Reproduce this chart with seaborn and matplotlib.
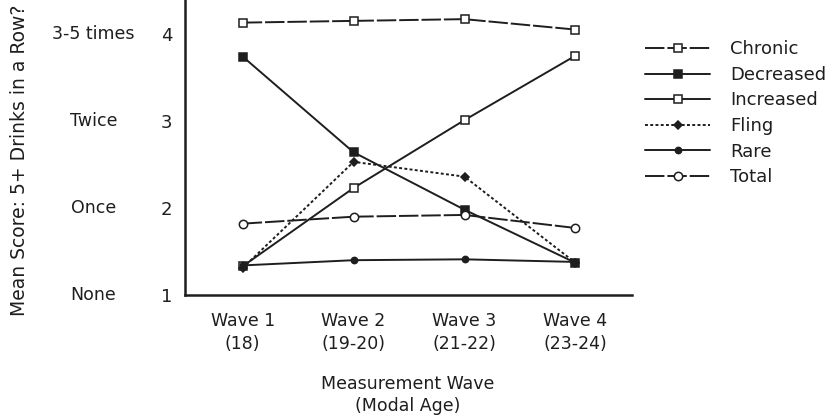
import matplotlib
matplotlib.use("Agg")
import matplotlib.pyplot as plt
import seaborn as sns
import pandas as pd

waves = ["Wave 1\n(18)", "Wave 2\n(19-20)", "Wave 3\n(21-22)", "Wave 4\n(23-24)"]
groups = ["Chronic", "Decreased", "Increased", "Fling", "Rare", "Total"]
chronic = [4.13, 4.15, 4.17, 4.05]
decreased = [3.74, 2.64, 1.98, 1.37]
increased = [1.33, 2.23, 3.01, 3.75]
fling = [1.31, 2.53, 2.36, 1.37]
rare = [1.34, 1.40, 1.41, 1.38]
total = [1.82, 1.90, 1.92, 1.77]
ytick_vals = [1, 2, 3, 4]
ytick_words = ["None", "Once", "Twice", "3-5 times"]

series = dict(zip(groups, [chronic, decreased, increased, fling, rare, total]))
rows = []
for g, vals in series.items():
    for i, v in enumerate(vals):
        rows.append({"group": g, "wave": i, "score": v})
df = pd.DataFrame(rows)

sns.set_style("white")
plt.rcParams["font.family"] = ["DejaVu Sans"]

fig = plt.figure(figsize=(8.35, 4.2), dpi=100)
ax = fig.add_axes([185/835, 1 - 295/420, (632-185)/835, 295/420])

ink = "#1e1e1e"
styles = {
    "Chronic":   dict(marker="s", mfc="white", ms=6, ls=(0, (10, 1.5))),
    "Decreased": dict(marker="s", mfc=ink, ms=6, ls="-"),
    "Increased": dict(marker="s", mfc="white", ms=6, ls="-"),
    "Fling":     dict(marker="D", mfc=ink, ms=4, ls=(0, (1.5, 1.2))),
    "Rare":      dict(marker="o", mfc=ink, ms=4.5, ls="-"),
    "Total":     dict(marker="o", mfc="white", ms=6, ls=(0, (10, 1.5))),
}
for g in groups:
    st = styles[g]
    sns.lineplot(data=df[df.group == g], x="wave", y="score", ax=ax,
                 color=ink, lw=1.4, marker=st["marker"], ms=st["ms"],
                 mfc=st["mfc"], mec=ink, mew=1.1, linestyle=st["ls"],
                 label=g, legend=False)

ax.set_xlim(-0.52, 3.51)
ax.set_ylim(1, 4.39)
ax.set_xticks(range(len(waves)))
ax.set_xticklabels(waves, fontsize=12.5, linespacing=1.3)
ax.set_yticks(ytick_vals)
ax.set_yticklabels([str(v) for v in ytick_vals], fontsize=13)
ax.tick_params(axis="y", length=7, width=1.2, direction="out", pad=2, colors=ink)
ax.tick_params(axis="x", length=5, width=1.0, direction="inout", pad=10, colors=ink)
for s in ["top", "right"]:
    ax.spines[s].set_visible(False)
for s in ["left", "bottom"]:
    ax.spines[s].set_linewidth(1.8)
    ax.spines[s].set_color(ink)

for v, w in zip(ytick_vals, ytick_words):
    ax.text(-0.205, v, w, transform=ax.get_yaxis_transform(), ha="center",
            va="center", fontsize=12.5, color=ink)

ax.set_xlabel("")
ax.set_ylabel("")
fig.text(20/835, 1 - 316/420, "Mean Score: 5+ Drinks in a Row?", rotation=90,
         ha="center", va="bottom", fontsize=13.5, color=ink)
fig.text(408/835, 1 - 395/420, "Measurement Wave\n(Modal Age)", ha="center",
         va="center", fontsize=12.5, color=ink, linespacing=1.3)

handles, labels = ax.get_legend_handles_labels()
fig.legend(handles, labels, loc="upper left", bbox_to_anchor=(629/835, 1 - 24/420),
           frameon=False, fontsize=13, handlelength=3.6, handletextpad=1.1,
           labelspacing=0.42, labelcolor=ink)

fig.savefig("out.png", dpi=100)
